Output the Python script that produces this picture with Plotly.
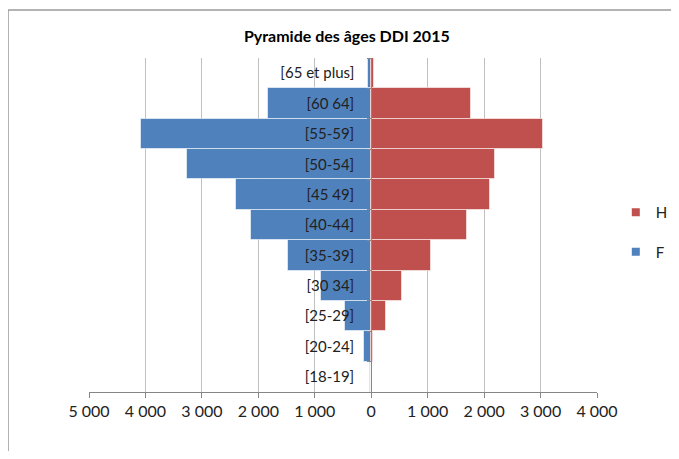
import plotly.graph_objects as go

# Données de la pyramide (effectifs)
age_groups = ["[18-19]", "[20-24]", "[25-29]", "[30 34]", "[35-39]", "[40-44]",
              "[45 49]", "[50-54]", "[55-59]", "[60 64]", "[65 et plus]"]
femmes = [15, 120, 470, 890, 1480, 2130, 2390, 3260, 4080, 1830, 50]
hommes = [0, 35, 270, 540, 1055, 1690, 2110, 2190, 3040, 1760, 50]

tick_vals = [-5000, -4000, -3000, -2000, -1000, 0, 1000, 2000, 3000, 4000]
tick_text = ["5 000", "4 000", "3 000", "2 000", "1 000", "0", "1 000", "2 000", "3 000", "4 000"]

colors = {"F": "#4F81BD", "H": "#C0504D"}
font_family = "Lato, 'Open Sans', sans-serif"
bar_line = dict(color="rgba(255,255,255,0.55)", width=1)

fig = go.Figure()

fig.add_trace(go.Bar(y=age_groups, x=[-v for v in femmes], name="F", orientation="h",
                     marker=dict(color=colors["F"], line=bar_line), showlegend=False))
fig.add_trace(go.Bar(y=age_groups, x=hommes, name="H", orientation="h",
                     marker=dict(color=colors["H"], line=bar_line), showlegend=False))

# entrées de légende (petits carrés façon Excel)
for name in ["H", "F"]:
    fig.add_trace(go.Scatter(x=[None], y=[None], mode="markers", name=name,
                             legendgroup=name,
                             marker=dict(symbol="square", size=8, color=colors[name])))

# taille réduite pour tenir dans la fenêtre avec la marge de 8px du body (pas de barre de défilement)
fig.update_layout(
    width=663, height=443,
    margin=dict(l=81, r=74, t=50, b=59, autoexpand=False),
    paper_bgcolor="white", plot_bgcolor="white",
    barmode="relative", bargap=0,
    font=dict(family=font_family, size=15, color="#222222"),
    title=dict(text="<b>Pyramide des âges DDI 2015</b>", x=0.511, xanchor="center",
               y=0.937, yanchor="middle", font=dict(size=16, color="#000000")),
    showlegend=True,
    legend=dict(x=1.037, y=0.479, xanchor="left", yanchor="middle",
                traceorder="grouped", tracegroupgap=17,
                font=dict(size=15, color="#222222")),
    xaxis=dict(
        range=[-5000, 4000], tickvals=tick_vals, ticktext=tick_text,
        showgrid=True, gridcolor="#C0C0C0", gridwidth=1, zeroline=False,
        showline=True, linecolor="#868686", ticks="outside", ticklen=5, tickcolor="#868686",
        tickfont=dict(size=16, color="#222222"),
    ),
    yaxis=dict(
        type="category", categoryorder="array", categoryarray=age_groups,
        anchor="free", position=5000 / 9000, side="left",
        showgrid=False, zeroline=False, showline=True, linecolor="#868686",
        ticks="outside", ticklen=4, tickcolor="#868686", tickson="boundaries",
        ticklabelstandoff=14, tickfont=dict(size=15, color="#222222"),
    ),
)

# Cadre de la zone de graphique : seuls les bords haut et gauche sont visibles
frame = dict(color="#9A9A9A", width=1.5)
fig.add_shape(type="line", xref="paper", yref="paper",
              x0=-0.1594, x1=1.35, y0=1.1437, y1=1.1437, line=frame, layer="below")
fig.add_shape(type="line", xref="paper", yref="paper",
              x0=-0.1594, x1=-0.1594, y0=-0.35, y1=1.1437, line=frame, layer="below")

fig.write_html("out.html")
